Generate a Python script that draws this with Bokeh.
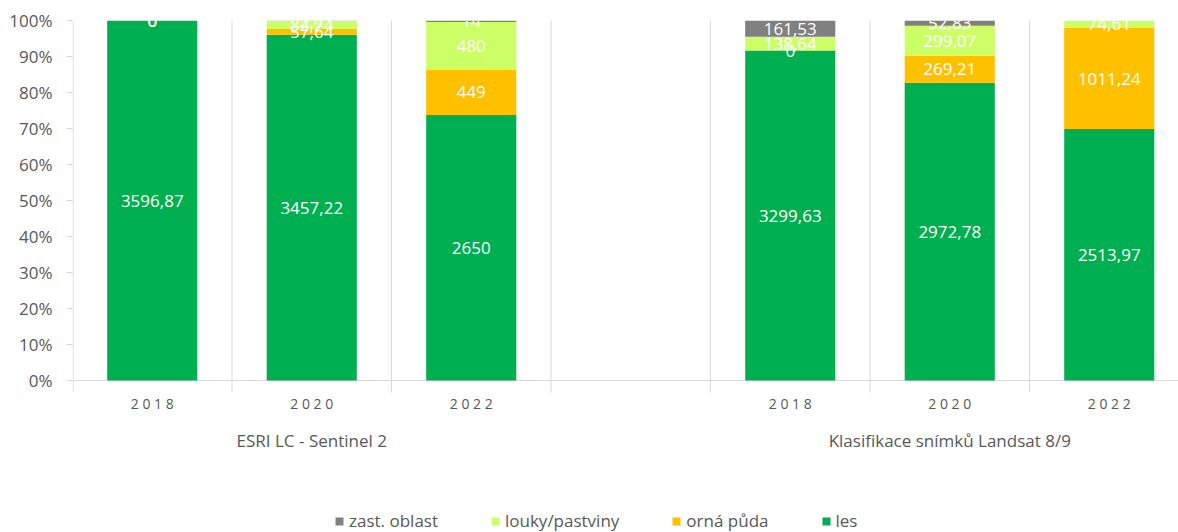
from bokeh.plotting import figure
from bokeh.models import ColumnDataSource, FixedTicker, Range1d, Legend, LegendItem
from bokeh.core.properties import value
from bokeh.embed import file_html
from bokeh.resources import INLINE

# ---- data ----
categories = ["2018", "2020", "2022", "", "2018", "2020", "2022"]
groups = ["ESRI LC - Sentinel 2", "Klasifikace snímků Landsat 8/9"]
group_centers = [1.5, 5.5]
series = ["les", "orná půda", "louky/pastviny", "zast. oblast"]
les = [3596.87, 3457.22, 2650, None, 3299.63, 2972.78, 2513.97]
orna = [0, 57.64, 449, None, 0, 269.21, 1011.24]
louky = [0, 82.74, 480, None, 138.64, 299.07, 74.61]
zast = [0, 2.4, 14, None, 161.53, 52.83, None]
colors = ["#00B050", "#FFC000", "#CCFF66", "#808080"]
y_ticks = [0, 10, 20, 30, 40, 50, 60, 70, 80, 90, 100]

FONT = "Open Sans"
GRAY_TXT = "#595959"
GRID = "#D9D9D9"

data = [les, orna, louky, zast]
n = len(categories)
xs = [i + 0.5 for i in range(n)]

totals = []
for i in range(n):
    totals.append(sum(s[i] for s in data if s[i] is not None))


def fmt(v):
    if float(v).is_integer():
        return str(int(v))
    s = ("%.2f" % v).rstrip("0").rstrip(".")
    return s.replace(".", ",")


PX = 3.6  # pixels per percent
y_bottom = -(532 - 380) / PX
p = figure(width=1178, height=532, output_backend="svg", toolbar_location=None,
           x_range=Range1d(0, 1106 / 159.5), y_range=Range1d(y_bottom, 100),
           x_axis_location=None,
           min_border_left=72, min_border_right=0, min_border_top=20, min_border_bottom=0)
p.outline_line_color = None
p.xgrid.visible = False
p.ygrid.visible = False

# separators / axis lines
tick_len = 12 / PX
sep_x = [0.004] + list(range(1, n + 1))
p.segment(x0=sep_x, y0=[100] * len(sep_x), x1=sep_x, y1=[-tick_len] * len(sep_x),
          line_color=GRID, line_width=1)
p.segment(x0=[0], y0=[0], x1=[n], y1=[0], line_color=GRID, line_width=1)

renderers = []
bottoms = [0.0] * n
lab_x, lab_y, lab_t = [], [], []
for k, s in enumerate(data):
    b, t, x = [], [], []
    for i in range(n):
        if s[i] is None or totals[i] == 0:
            continue
        pct = s[i] / totals[i] * 100
        b.append(bottoms[i])
        t.append(bottoms[i] + pct)
        x.append(xs[i])
        lab_x.append(xs[i])
        lab_y.append(bottoms[i] + pct / 2)
        lab_t.append(fmt(s[i]))
        bottoms[i] += pct
    src = ColumnDataSource(dict(x=x, bottom=b, top=t))
    r = p.vbar(x="x", bottom="bottom", top="top", width=0.565, source=src,
               fill_color=colors[k], line_color=None)
    renderers.append(r)

lsrc = ColumnDataSource(dict(x=lab_x, y=lab_y, text=lab_t))
p.text(x="x", y="y", text="text", source=lsrc, text_color="white",
       text_font=value(FONT), text_font_size="17px", text_align="center",
       text_baseline="middle")

# category labels
cx = [xs[i] for i, c in enumerate(categories) if c]
ct = [" ".join(c) for c in categories if c]
p.text(x=cx, y=[-23 / PX] * len(cx), text=ct, text_color=GRAY_TXT,
       text_font=value(FONT), text_font_size="14px", text_align="center",
       text_baseline="middle")
# group labels
p.text(x=group_centers, y=[-60 / PX] * len(groups), text=groups, text_color=GRAY_TXT,
       text_font=value(FONT), text_font_size="17px", text_align="center",
       text_baseline="middle")

# y axis
p.yaxis.ticker = FixedTicker(ticks=y_ticks)
p.yaxis.major_label_overrides = {v: "%d%%" % v for v in y_ticks}
p.yaxis.axis_line_color = None
p.yaxis.major_tick_line_color = GRID
p.yaxis.major_tick_out = 6
p.yaxis.major_tick_in = 0
p.yaxis.minor_tick_line_color = None
p.yaxis.major_label_text_font = FONT
p.yaxis.major_label_text_font_size = "17px"
p.yaxis.major_label_text_color = GRAY_TXT
p.yaxis.major_label_standoff = 14

items = [LegendItem(label=series[k], renderers=[renderers[k]]) for k in [3, 2, 1, 0]]
legend = Legend(items=items, orientation="horizontal", location=(262, 0),
                glyph_width=10, glyph_height=10, label_standoff=5, spacing=52,
                padding=0, margin=0, border_line_color=None, background_fill_alpha=0,
                label_text_font=FONT, label_text_font_size="17px",
                label_text_color=GRAY_TXT, label_height=20)
p.add_layout(legend, "center")

open("out.html", "w").write(file_html(p, INLINE))
